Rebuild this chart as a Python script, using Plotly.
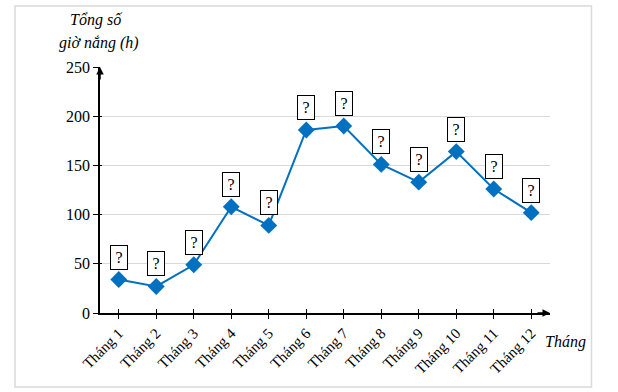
import plotly.graph_objects as go

months = ["Tháng 1", "Tháng 2", "Tháng 3", "Tháng 4", "Tháng 5", "Tháng 6",
          "Tháng 7", "Tháng 8", "Tháng 9", "Tháng 10", "Tháng 11", "Tháng 12"]
sun_hours = [34, 27, 49, 108, 89, 186, 190, 151, 133, 164, 126, 102]
y_ticks = [0, 50, 100, 150, 200, 250]
y_title_lines = ["Tổng số", "giờ nắng (h)"]
x_title = "Tháng"

W, H = 618, 392
L, R, T, B = 100, 68, 67, 79
pw, ph = W - L - R, H - T - B

def px(x):
    return (x - L) / pw

def py(y):
    return (H - B - y) / ph

SERIF = "Liberation Serif"
BLUE = "#0070C0"

fig = go.Figure()
fig.add_trace(go.Scatter(
    x=months, y=sun_hours, mode="lines+markers",
    line=dict(color=BLUE, width=2),
    marker=dict(symbol="diamond", size=13, color=BLUE),
    hoverinfo="skip", showlegend=False,
))
fig.add_trace(go.Scatter(x=months, y=sun_hours, xaxis="x2", yaxis="y2",
                         mode="markers", marker=dict(opacity=0), showlegend=False,
                         hoverinfo="skip"))

annotations = []
for m, v in zip(months, sun_hours):
    annotations.append(dict(
        x=m, y=v, xref="x", yref="y", text="?", showarrow=False,
        yanchor="bottom", yshift=10, width=12, height=19, borderpad=2,
        bordercolor="black", borderwidth=1, bgcolor="white",
        font=dict(family=SERIF, size=16, color="black"),
    ))
annotations.append(dict(x=1, y=0, xref="paper", yref="y", ax=-14, ay=0,
                        axref="pixel", ayref="pixel", text="", showarrow=True,
                        arrowhead=2, arrowsize=1, arrowwidth=1.5, arrowcolor="black"))
annotations.append(dict(x=0, y=1, xref="paper", yref="paper", ax=0, ay=14,
                        text="", showarrow=True,
                        arrowhead=2, arrowsize=1, arrowwidth=1.5, arrowcolor="black"))
annotations.append(dict(x=px(96), y=py(20), xref="paper", yref="paper",
                        text="<i>" + y_title_lines[0] + "</i>", showarrow=False,
                        font=dict(family=SERIF, size=16, color="black"),
                        xanchor="center", yanchor="middle"))
annotations.append(dict(x=px(99), y=py(43), xref="paper", yref="paper",
                        text="<i>" + y_title_lines[1] + "</i>", showarrow=False,
                        font=dict(family=SERIF, size=16, color="black"),
                        xanchor="center", yanchor="middle"))
annotations.append(dict(x=px(543), y=py(342), xref="paper", yref="paper",
                        text="<i>" + x_title + "</i>", showarrow=False,
                        font=dict(family=SERIF, size=16, color="black"),
                        xanchor="left", yanchor="middle"))

fig.update_layout(
    width=W, height=H,
    margin=dict(l=L, r=R, t=T, b=B, autoexpand=False),
    paper_bgcolor="white", plot_bgcolor="white",
    font=dict(family=SERIF, size=16, color="black"),
    xaxis=dict(type="category", range=[-0.5, 11.5], showgrid=False,
               showline=True, linecolor="black", linewidth=1.5,
               ticks="outside", ticklen=4, tickcolor="black", tickwidth=1,
               tickangle=-45, tickfont=dict(family=SERIF, size=15),
               zeroline=False, fixedrange=True, automargin=False),
    xaxis2=dict(type="category", range=[-0.5, 11.5], overlaying="x",
                showgrid=False, showline=False, ticks="inside", ticklen=4,
                tickcolor="black", showticklabels=False, anchor="y",
                automargin=False),
    yaxis=dict(range=[0, 250], tickvals=y_ticks, showgrid=True,
               gridcolor="#d9d9d9", gridwidth=1,
               showline=True, linecolor="black", linewidth=1.5,
               ticks="outside", ticklen=5, tickcolor="black", tickwidth=1,
               tickfont=dict(family=SERIF, size=16), zeroline=False,
               fixedrange=True, automargin=False),
    yaxis2=dict(range=[0, 250], tickvals=y_ticks, overlaying="y",
                showgrid=False, showline=False, ticks="inside", ticklen=2,
                tickcolor="black", showticklabels=False, anchor="x",
                automargin=False),
    annotations=annotations,
    shapes=[dict(type="rect", xref="paper", yref="paper",
                 x0=px(15), x1=px(591.5), y0=py(387), y1=py(6),
                 line=dict(color="#d9d9d9", width=1.5), layer="below")],
)

fig.write_html("out.html", config={"displayModeBar": False},
               post_script="document.body.style.margin='0';document.body.style.overflow='hidden';")
